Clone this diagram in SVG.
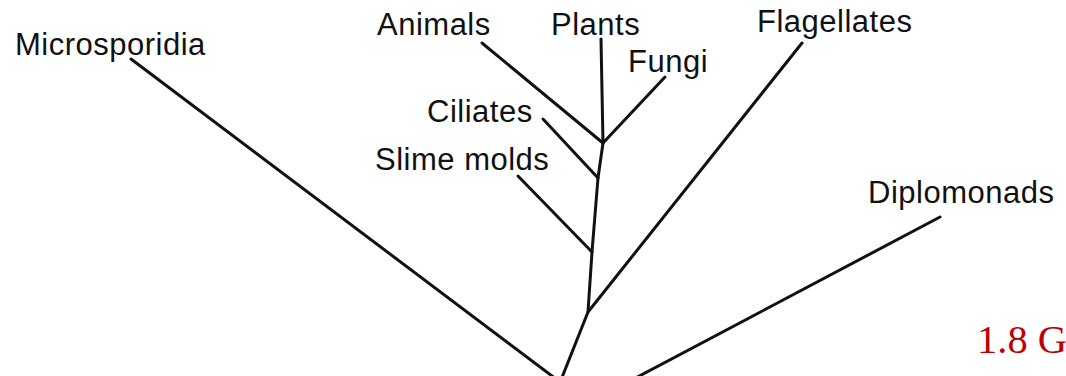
<svg xmlns="http://www.w3.org/2000/svg" width="1066" height="376" viewBox="0 0 1066 376">
<style>
.lbl{font-family:"Liberation Sans",Arial,sans-serif;font-size:31px;fill:#111;letter-spacing:0.5px}
.br{stroke:#111;stroke-width:3;fill:none;stroke-linecap:round;stroke-linejoin:round}
</style>
<rect width="1066" height="376" fill="#fff"/>
<g id="connectors">
<polyline class="br" points="561,380 588,312 592,252 598,178 603,143 601,39"/>
<line class="br" x1="131" y1="59" x2="560" y2="382"/>
<line class="br" x1="482" y1="43" x2="603" y2="143"/>
<line class="br" x1="665" y1="77" x2="603" y2="143"/>
<line class="br" x1="543" y1="119" x2="598" y2="178"/>
<line class="br" x1="518" y1="176" x2="592" y2="252"/>
<line class="br" x1="802" y1="43" x2="588" y2="312"/>
<line class="br" x1="940" y1="217" x2="628" y2="382"/>
</g>
<g id="microsporidia"><text class="lbl" x="15" y="55">Microsporidia</text></g>
<g id="animals"><text class="lbl" x="377" y="35">Animals</text></g>
<g id="plants"><text class="lbl" x="551" y="35">Plants</text></g>
<g id="fungi"><text class="lbl" x="628" y="72">Fungi</text></g>
<g id="ciliates"><text class="lbl" x="427" y="122">Ciliates</text></g>
<g id="slime-molds"><text class="lbl" x="375" y="170">Slime molds</text></g>
<g id="flagellates"><text class="lbl" x="757" y="32">Flagellates</text></g>
<g id="diplomonads"><text class="lbl" x="868" y="203">Diplomonads</text></g>
<g id="label-1-8g"><text x="977" y="353" font-family="'Liberation Serif','Times New Roman',serif" font-size="40.5" fill="#c00000">1.8 G</text></g>
</svg>
